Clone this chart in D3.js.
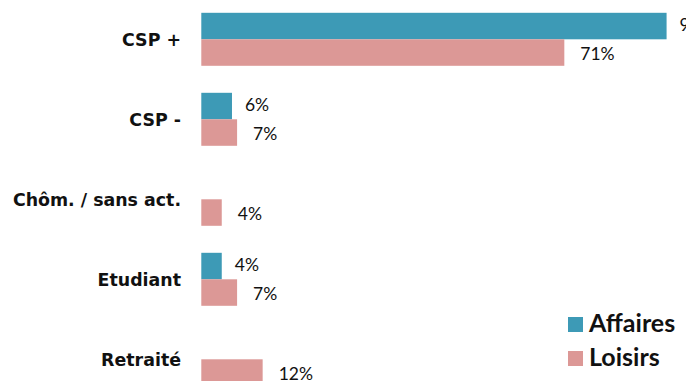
<!DOCTYPE html>
<html>
<head>
<meta charset="utf-8">
<script src="https://cdn.jsdelivr.net/npm/d3@7"></script>
<style>
  html, body { margin: 0; padding: 0; background: #fff; overflow: hidden; }
  svg { display: block; }
</style>
</head>
<body>
<svg id="chart" width="686" height="381"></svg>
<script>
// Profil des voyageurs par motif (%)
const categories = ["CSP +", "CSP -", "Chôm. / sans act.", "Etudiant", "Retraité"];
const seriesNames = ["Affaires", "Loisirs"];
const affaires = [91, 6, 0, 4, 0];
const loisirs = [71, 7, 4, 7, 12];
const colors = ["#3d9ab6", "#dc9896"];

const W = 686, H = 381;
const svg = d3.select("#chart");

const rows = categories.map((c, i) => ({ cat: c, values: [affaires[i], loisirs[i]] }));

// vertical bands, one per category
const y = d3.scaleBand().domain(categories).range([-0.7, 399.3]).paddingInner(0).paddingOuter(0);
const inner = d3.scaleBand().domain(seriesNames).range([13.5, 66.5]).padding(0);
const x = d3.scaleLinear().domain([0, 100]).range([201.3, 201.3 + 511.3]);

const g = svg.append("g");

const grp = g.selectAll("g.cat").data(rows).join("g")
  .attr("class", "cat")
  .attr("transform", d => `translate(0,${y(d.cat)})`);

grp.selectAll("rect").data(d => d.values.map((v, k) => ({ v, k, s: seriesNames[k] })).filter(e => e.v > 0))
  .join("rect")
  .attr("x", x(0))
  .attr("y", e => inner(e.s))
  .attr("width", e => x(e.v) - x(0))
  .attr("height", inner.bandwidth())
  .attr("fill", e => colors[e.k]);

// value labels, just past each bar's end
const gap = [13, 16];
const base = [5, 7.5];
grp.selectAll("text.val").data(d => d.values.map((v, k) => ({ v, k, s: seriesNames[k] })).filter(e => e.v > 0))
  .join("text")
  .attr("class", "val")
  .attr("x", e => x(e.v) + gap[e.k])
  .attr("y", e => inner(e.s) + inner.bandwidth() / 2 + base[e.k])
  .attr("font-family", "Lato, 'Open Sans', sans-serif")
  .attr("font-size", 17.5)
  .attr("fill", "#111")
  .text(e => e.v + "%");

// category axis labels
const axis = d3.axisLeft(y).tickSize(0).tickPadding(0);
const ax = svg.append("g").attr("transform", "translate(181,0)").call(axis);
ax.select(".domain").remove();
ax.selectAll("text")
  .attr("font-family", "'DejaVu Sans', Verdana, sans-serif")
  .attr("font-weight", "bold")
  .attr("font-size", 17.4)
  .attr("fill", "#111")
  .attr("dy", null)
  .attr("y", 6.8);

// legend
const legend = svg.append("g").attr("transform", "translate(568,317)");
const li = legend.selectAll("g").data(seriesNames).join("g")
  .attr("transform", (d, i) => `translate(0,${i * 34})`);
li.append("rect").attr("width", 15).attr("height", 15).attr("fill", (d, i) => colors[i]);
li.append("text")
  .attr("x", 21).attr("y", 15)
  .attr("font-family", "Lato, sans-serif")
  .attr("font-weight", "bold")
  .attr("font-size", 25)
  .attr("fill", "#111")
  .text(d => d);
</script>
</body>
</html>
